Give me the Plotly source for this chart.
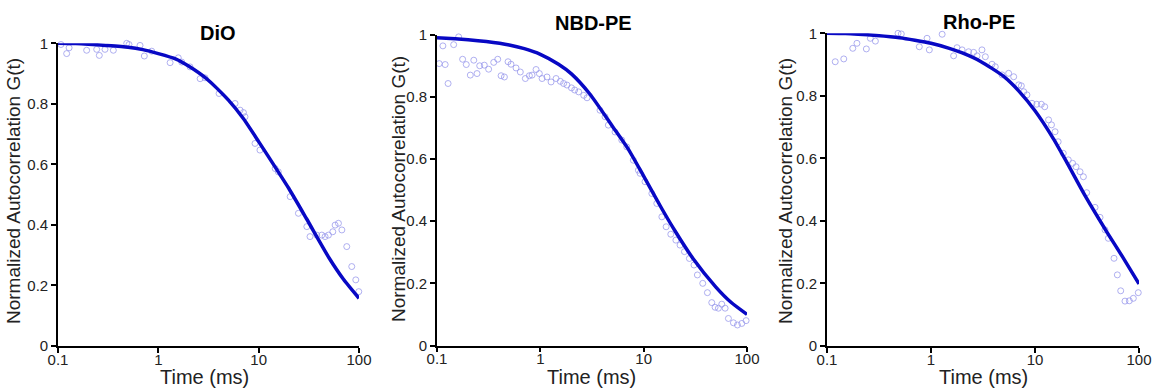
import plotly.graph_objects as go

# ---------------- data ----------------
panel_titles = ["DiO", "NBD-PE", "Rho-PE"]
x_tick_vals = [0.1, 1, 10, 100]
x_tick_text = ["0.1", "1", "10", "100"]
y_tick_vals = [0, 0.2, 0.4, 0.6, 0.8, 1]
y_tick_text = ["0", "0.2", "0.4", "0.6", "0.8", "1"]

t_fit = [0.1, 0.15, 0.2, 0.3, 0.5, 0.7, 1, 1.5, 2, 3, 5, 7, 10, 15, 20, 30, 50, 70, 100]
dio_fit = [1.0, 0.999, 0.997, 0.993, 0.987, 0.979, 0.966, 0.948, 0.925, 0.884, 0.812, 0.752, 0.675,
           0.585, 0.52, 0.42, 0.292, 0.22, 0.157]
nbd_fit = [0.99, 0.987, 0.984, 0.978, 0.967, 0.955, 0.937, 0.905, 0.874, 0.81, 0.705, 0.635, 0.545,
           0.44, 0.37, 0.28, 0.188, 0.139, 0.10]
rho_fit = [1.0, 0.999, 0.997, 0.993, 0.986, 0.978, 0.968, 0.952, 0.937, 0.91, 0.862, 0.815, 0.752,
           0.663, 0.59, 0.483, 0.36, 0.283, 0.198]

dio_t = [0.107, 0.122, 0.129, 0.193, 0.243, 0.258, 0.294, 0.356, 0.484, 0.51, 0.657, 0.725, 0.859,
         1.31, 1.58, 1.71, 2.07, 2.61, 2.92, 4.03, 5.82, 6.53, 7.05, 7.31, 9.2, 10.3, 14.6, 15.7,
         20.6, 24.9, 30.2, 32.5, 37.9, 42.6, 45.9, 49.6, 54.8, 57.8, 62.4, 67.5, 75.5, 84.7, 92.9, 99.5]
dio_g = [0.996, 0.966, 0.985, 0.977, 0.98, 0.96, 0.98, 0.977, 1.0, 0.996, 0.993, 0.958, 0.974,
         0.936, 0.952, 0.938, 0.922, 0.883, 0.886, 0.834, 0.801, 0.779, 0.771, 0.757, 0.669, 0.647, 0.586, 0.575,
         0.493, 0.438, 0.394, 0.361, 0.366, 0.366, 0.361, 0.366, 0.377, 0.399, 0.405, 0.383, 0.328, 0.262, 0.218, 0.179]

nbd_t = [0.105, 0.114, 0.12, 0.128, 0.145, 0.162, 0.177, 0.192, 0.21, 0.227, 0.244, 0.259, 0.287, 0.316,
         0.354, 0.387, 0.417, 0.449, 0.487, 0.52, 0.582, 0.64, 0.716, 0.783, 0.832, 0.909, 0.978, 1.04,
         1.16, 1.27, 1.42, 1.56, 1.68, 1.81, 2.0, 2.15, 2.35, 2.63, 2.83, 3.78, 4.23, 4.55, 5.28, 6.14,
         6.86, 7.95, 8.89, 9.23, 10.3, 12.0, 13.4, 15.0, 16.5, 18.3, 20.5, 22.5, 24.8, 27.7, 30.7, 33.1,
         37.3, 41.4, 45.6, 49.1, 52.9, 57.0, 61.4, 66.1, 73.9, 80.8, 89.1, 98.0]
nbd_g = [0.907, 0.964, 0.904, 0.843, 0.968, 0.993, 0.921, 0.904, 0.87, 0.918, 0.875, 0.9, 0.902, 0.889,
         0.911, 0.921, 0.868, 0.864, 0.913, 0.905, 0.893, 0.88, 0.859, 0.868, 0.87, 0.888, 0.875, 0.859,
         0.864, 0.848, 0.859, 0.85, 0.843, 0.838, 0.829, 0.822, 0.816, 0.805, 0.797, 0.757, 0.736, 0.709, 0.687, 0.661,
         0.639, 0.596, 0.564, 0.554, 0.527, 0.489, 0.457, 0.414, 0.382, 0.358, 0.339, 0.323, 0.302, 0.28, 0.259, 0.227,
         0.2, 0.17, 0.138, 0.123, 0.12, 0.133, 0.12, 0.087, 0.073, 0.066, 0.071, 0.08]

rho_t = [0.12, 0.145, 0.177, 0.194, 0.239, 0.261, 0.292, 0.482, 0.518, 0.772, 0.916, 0.964, 1.28, 1.65,
         1.78, 1.99, 2.3, 2.57, 2.77, 3.09, 3.33, 3.86, 4.15, 4.82, 5.58, 6.24, 6.97, 7.39, 7.79, 8.37,
         9.35, 10.4, 11.5, 12.4, 13.5, 14.4, 15.6, 16.7, 18.7, 20.9, 23.0, 24.8, 27.1, 29.2, 31.4, 37.8,
         42.2, 47.1, 50.7, 57.5, 61.9, 66.7, 73.3, 80.7, 88.2, 98.4]
rho_g = [0.909, 0.918, 0.952, 0.968, 0.95, 0.984, 0.975, 1.0, 0.998, 0.957, 0.984, 0.947, 0.997, 0.928,
         0.954, 0.947, 0.941, 0.939, 0.928, 0.947, 0.925, 0.901, 0.893, 0.867, 0.872, 0.861, 0.835, 0.832, 0.813, 0.803,
         0.776, 0.773, 0.773, 0.765, 0.723, 0.707, 0.685, 0.653, 0.616, 0.595, 0.584, 0.573, 0.557, 0.541, 0.49, 0.443,
         0.411, 0.371, 0.344, 0.28, 0.227, 0.176, 0.143, 0.144, 0.152, 0.17]

# ---------------- styling / layout ----------------
W, H = 1155, 389
FONT = "Liberation Sans, Arial, sans-serif"
LINE_COLOR = "#0808c4"
MARKER_COLOR = "rgba(150,150,235,0.75)"

# plot areas in pixels: (left, right, top, bottom)
boxes = [(58, 359, 43.3, 345.8), (437, 747, 34.7, 345.5), (827, 1139, 33.3, 345.8)]
title_pos = [(217.5, 33), (593.5, 23.5), (979, 22.5)]
ytitle_pos = [(13, 191), (398, 189), (785, 191)]
xtitle_pos = [(204, 377), (591.5, 377), (983, 377)]

series = [(dio_t, dio_g, dio_fit), (nbd_t, nbd_g, nbd_fit), (rho_t, rho_g, rho_fit)]

fig = go.Figure()
annotations = []
layout_axes = {}
for i, ((st, sg, fit), box) in enumerate(zip(series, boxes)):
    n = "" if i == 0 else str(i + 1)
    xa, ya = "x" + n, "y" + n
    fig.add_trace(go.Scatter(
        x=st, y=sg, xaxis=xa, yaxis=ya, mode="markers", cliponaxis=False,
        marker=dict(symbol="circle-open", size=6, color=MARKER_COLOR, line=dict(width=1, color=MARKER_COLOR)),
        showlegend=False, hoverinfo="skip"))
    fig.add_trace(go.Scatter(
        x=t_fit, y=fit, xaxis=xa, yaxis=ya, mode="lines", cliponaxis=False,
        line=dict(color=LINE_COLOR, width=3.5, shape="spline", smoothing=0.6),
        showlegend=False))
    l, r, t, b = box
    axis_common = dict(showline=True, linecolor="black", linewidth=1.6, ticks="outside",
                       ticklen=5, tickwidth=1.5, tickcolor="black", showgrid=False, zeroline=False,
                       automargin=False,
                       tickfont=dict(family=FONT, size=15, color="#222"))
    layout_axes["xaxis" + n] = dict(axis_common, type="log", range=[-1, 2],
                                    tickvals=x_tick_vals, ticktext=x_tick_text,
                                    ticklabelstandoff=-6,
                                    domain=[l / W, r / W], anchor=ya)
    layout_axes["yaxis" + n] = dict(axis_common, range=[0, 1],
                                    tickvals=y_tick_vals, ticktext=y_tick_text,
                                    domain=[(H - b) / H, (H - t) / H], anchor=xa)
    tx, ty = title_pos[i]
    annotations.append(dict(text="<b>%s</b>" % panel_titles[i], x=tx / W, y=(H - ty) / H,
                            xref="paper", yref="paper", xanchor="center", yanchor="middle",
                            showarrow=False, font=dict(family=FONT, size=20, color="black")))
    yx, yy = ytitle_pos[i]
    annotations.append(dict(text="Normalized Autocorrelation G(t)", x=yx / W, y=(H - yy) / H,
                            xref="paper", yref="paper", xanchor="center", yanchor="middle",
                            textangle=-90, showarrow=False, font=dict(family=FONT, size=19, color="#222")))
    xx, xy = xtitle_pos[i]
    annotations.append(dict(text="Time (ms)", x=xx / W, y=(H - xy) / H,
                            xref="paper", yref="paper", xanchor="center", yanchor="middle",
                            showarrow=False, font=dict(family=FONT, size=20, color="#222")))

fig.update_layout(width=W, height=H, margin=dict(l=0, r=0, t=0, b=0, autoexpand=False),
                  paper_bgcolor="white", plot_bgcolor="white",
                  annotations=annotations, **layout_axes)
fig.write_html("out.html", config={"displayModeBar": False},
               post_script="document.body.style.margin='0px';document.body.style.padding='0px';")
